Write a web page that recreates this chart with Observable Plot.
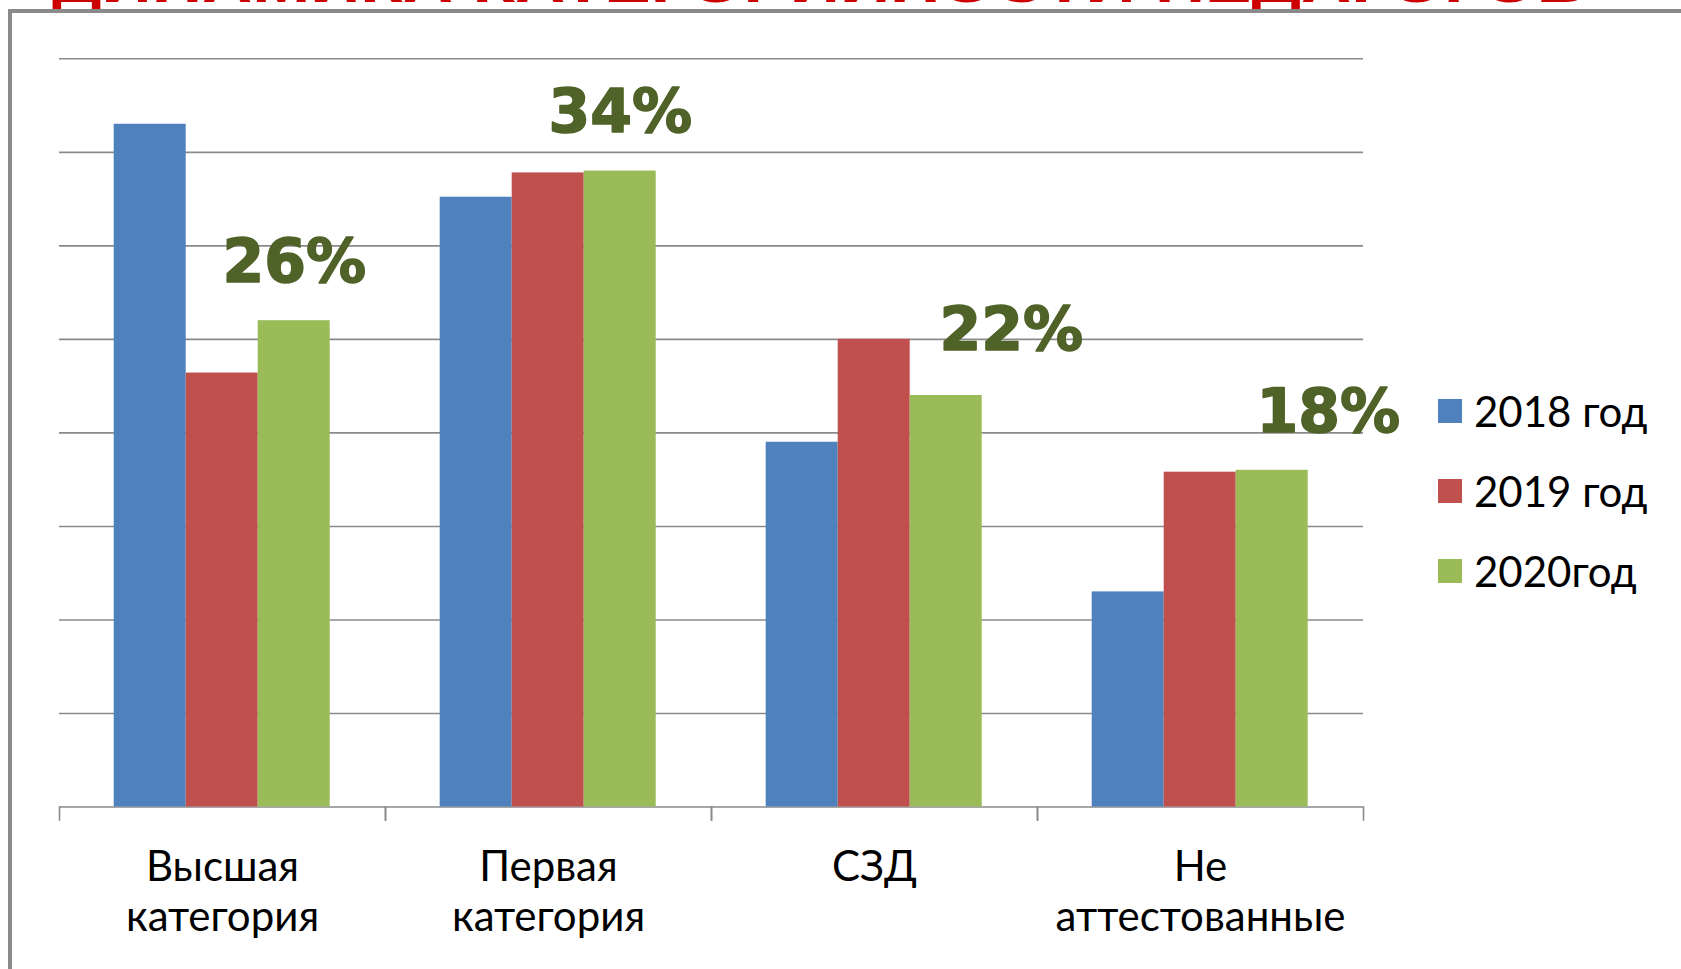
<!DOCTYPE html>
<html><head><meta charset="utf-8">
<script src="https://cdn.jsdelivr.net/npm/d3@7"></script>
<script src="https://cdn.jsdelivr.net/npm/@observablehq/plot@0.6"></script>
<style>
html,body{margin:0;padding:0;background:#fff;}
#stage{position:relative;width:1681px;height:969px;overflow:hidden;background:#fff;}
#title{position:absolute;left:0;top:0;}
#frame{position:absolute;left:8px;top:9px;width:2000px;height:2000px;border-left:4px solid #8a8a8a;border-top:4px solid #8a8a8a;box-sizing:border-box;}
#chart{position:absolute;left:0;top:0;}
#legend{position:absolute;left:1438px;top:371px;font-family:Lato;font-size:42px;color:#000;}
.row{display:flex;align-items:center;height:80px;white-space:nowrap;}
.sw{width:24px;height:24px;margin-right:12px;flex:none;}
</style></head>
<body>
<div id="stage">
  <svg id="title" width="1681" height="14"><text id="titleText" x="52" y="2" font-family="Liberation Sans, Arial, sans-serif" font-weight="bold" font-size="52" fill="#cc0000" textLength="1535" lengthAdjust="spacingAndGlyphs"></text></svg>
  <div id="frame"></div>
  <div id="chart"></div>
  <div id="legend"></div>
</div>
<script>
// ---- data ----
const titleText = "ДИНАМИКА КАТЕГОРИЙНОСТИ ПЕДАГОГОВ";
const categories = ["Высшая категория", "Первая категория", "СЗД", "Не аттестованные"];
const categoryLabels = ["Высшая\nкатегория", "Первая\nкатегория", "СЗД", "Не\nаттестованные"];
const years = ["2018 год", "2019 год", "2020год"];
const values2018 = [36.5, 32.6, 19.5, 11.5];
const values2019 = [23.2, 33.9, 25.0, 17.9];
const values2020 = [26, 34, 22, 18];
const labels2020 = ["26%", "34%", "22%", "18%"];
const yTicks = [5, 10, 15, 20, 25, 30, 35, 40];
const colors = ["#4f81bd", "#c0504d", "#9bbb59"];

// ---- layout ----
const W = 1681, H = 969;
const mL = 58.3, mR = 318, mT = 58.3, mB = 162.5;
const innerH = H - mT - mB;
const labelNudge = {
  "Высшая категория": [0, -39],
  "Первая категория": [0, -39],
  "СЗД": [65, -45],
  "Не аттестованные": [56, -38]
};

document.getElementById("titleText").textContent = titleText;

const series = [values2018, values2019, values2020];
const rows = [];
categories.forEach((c, i) => series.forEach((vals, j) => rows.push({category: c, year: years[j], value: vals[i]})));
const labelRows = categories.map((c, i) => ({category: c, year: years[2], value: values2020[i], label: labels2020[i]}));
const labelMap = new Map(categories.map((c, i) => [c, categoryLabels[i]]));

const gray = "#8a8a8a";

const chart = Plot.plot({
  width: W, height: H,
  marginLeft: mL, marginRight: mR, marginTop: mT, marginBottom: mB,
  style: {background: "transparent", overflow: "visible"},
  fx: {domain: categories, padding: 0, axis: null},
  x: {domain: years, paddingInner: 0, paddingOuter: 0.75, axis: null},
  y: {domain: [0, 40], axis: null},
  color: {domain: years, range: colors},
  marks: [
    Plot.ruleY(yTicks, {stroke: gray, strokeWidth: 1.6}),
    Plot.ruleY([0], {stroke: gray, strokeWidth: 1.6}),
    Plot.frame({anchor: "left", stroke: gray, strokeWidth: 1.6, insetTop: innerH, insetBottom: -13}),
    Plot.frame({anchor: "right", stroke: gray, strokeWidth: 1.6, insetTop: innerH, insetBottom: -13}),
    Plot.barY(rows, {fx: "category", x: "year", y: "value", fill: "year"}),
    ...categories.map(c => Plot.text(labelRows.filter(d => d.category === c), {
      fx: "category", x: "year", y: "value", text: "label",
      lineAnchor: "bottom", textAnchor: "middle",
      dx: labelNudge[c][0], dy: labelNudge[c][1],
      fill: "#4f6228", stroke: "#4f6228", strokeWidth: 1.6,
      fontSize: 60, fontWeight: "bold",
      fontFamily: "DejaVu Sans"
    })),
    Plot.axisFx({anchor: "bottom", tickSize: 0, tickPadding: 38, label: null,
      tickFormat: c => labelMap.get(c), fontSize: 42, fontFamily: "Lato",
      lineHeight: 1.2, fill: "#000"})
  ]
});
document.getElementById("chart").appendChild(chart);

// legend from the plot's own color scale
const colorScale = chart.scale("color");
const legend = d3.select("#legend");
years.forEach(y => {
  const row = legend.append("div").attr("class", "row");
  row.append("div").attr("class", "sw").style("background", colorScale.apply(y));
  row.append("span").text(y);
});
</script>
</body></html>
